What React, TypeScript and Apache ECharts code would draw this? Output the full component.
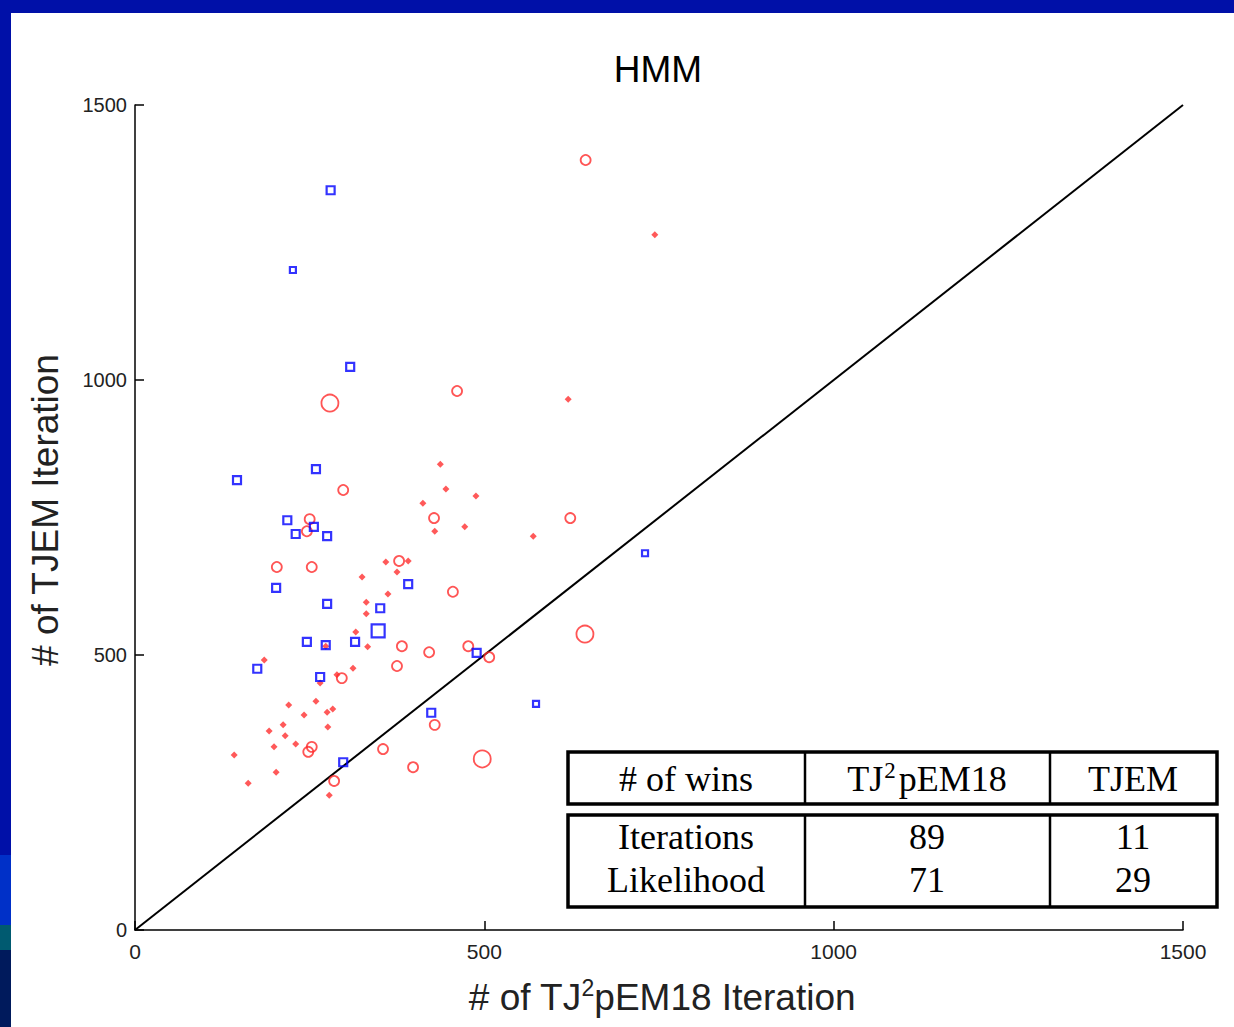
import React, { useEffect, useRef } from "react";
import * as echarts from "echarts";

// ---- data ----
const chartTitle = "HMM";
const xAxisTitle = "# of TJ2pEM18 Iteration";
const yAxisTitle = "# of TJEM Iteration";
const xTickValues = [0, 500, 1000, 1500];
const yTickValues = [0, 500, 1000, 1500];

// [TJ2pEM18 iterations, TJEM iterations, marker weight 0=small 1=normal 2=large]
const blueSquares: number[][] = [
  [280, 1345, 1], [226, 1200, 0], [308, 1024, 1], [146, 818, 1], [259, 838, 1],
  [218, 745, 1], [230, 720, 1], [256, 733, 1], [275, 716, 1], [202, 622, 1],
  [391, 629, 1], [351, 585, 1], [275, 593, 1], [348, 544, 2], [246, 524, 1],
  [273, 518, 1], [315, 524, 1], [175, 475, 1], [265, 460, 1], [489, 504, 1],
  [730, 685, 0], [574, 411, 0], [424, 395, 1], [298, 305, 1],
];

const redCircles: number[][] = [
  [645, 1400, 1], [279, 958, 2], [461, 980, 1], [298, 800, 1], [623, 749, 1],
  [428, 749, 1], [250, 747, 1], [246, 725, 1], [203, 660, 1], [253, 660, 1],
  [378, 671, 1], [455, 615, 1], [644, 538, 2], [382, 516, 1], [421, 505, 1],
  [477, 516, 1], [507, 496, 1], [375, 480, 1], [296, 458, 1], [429, 373, 1],
  [253, 333, 1], [248, 324, 1], [355, 329, 1], [497, 311, 2], [398, 296, 1],
  [285, 271, 1],
];

const redDots: number[][] = [
  [744, 1264], [620, 965], [437, 847], [445, 802], [488, 789], [412, 776],
  [429, 725], [472, 733], [570, 716], [359, 669], [391, 671], [375, 651],
  [325, 642], [362, 611], [331, 596], [331, 575], [316, 542], [333, 515],
  [185, 491], [312, 476], [265, 449], [289, 464], [259, 416], [220, 409],
  [242, 391], [275, 396], [283, 402], [212, 373], [276, 369], [192, 362],
  [215, 353], [199, 333], [230, 338], [142, 318], [202, 287], [162, 267],
  [278, 245], [273, 516],
];

const diagonal: number[][] = [[0, 0], [1500, 1500]];

const tableHeader = ["# of wins", "TJ2pEM18", "TJEM"];
const tableRowLabels = ["Iterations", "Likelihood"];
const winsTJ2pEM18 = [89, 71];
const winsTJEM = [11, 29];

const SANS = "'Liberation Sans', Arial, sans-serif";
const SERIF = "'Liberation Serif', 'Times New Roman', serif";

// Split "TJ2..." style strings into rich text with superscript 2
const supRich = (s: string, main: string, sup: string) => {
  const idx = s.indexOf("TJ2");
  if (idx < 0) return `{${main}|${s}}`;
  const before = s.slice(0, idx + 2);
  const after = s.slice(idx + 3);
  return `{${main}|${before}}{${sup}|2}{${main}|${after}}`;
};

export default function App() {
  const ref = useRef<HTMLDivElement>(null);

  useEffect(() => {
    if (!ref.current) return;
    const chart = echarts.init(ref.current, undefined, { renderer: "svg" });

    const squareSize = (v: number[]) => (v[2] === 2 ? 13 : v[2] === 0 ? 6 : 8);
    const circleSize = (v: number[]) => (v[2] === 2 ? 17 : 10);

    // table geometry
    const tx0 = 568, tx1 = 1217, c1 = 805, c2 = 1050;
    const hy0 = 752, hy1 = 804, by0 = 815, by1 = 907;
    const colCenters = [686, 927, 1133];
    const headerY = 779;
    const rowY = [837, 880];
    const tFont = `36px ${SERIF}`;

    const cellText = (x: number, y: number, text: string) => ({
      type: "text", x, y, z: 102,
      style: { text, font: tFont, fill: "#000", align: "center", verticalAlign: "middle" },
    });

    const tableGraphics: any[] = [
      { type: "rect", shape: { x: tx0, y: hy0, width: tx1 - tx0, height: hy1 - hy0 }, style: { fill: "#fff", stroke: "#000", lineWidth: 3.5 }, z: 100 },
      { type: "rect", shape: { x: tx0, y: by0, width: tx1 - tx0, height: by1 - by0 }, style: { fill: "#fff", stroke: "#000", lineWidth: 3.5 }, z: 100 },
      { type: "line", shape: { x1: c1, y1: hy0, x2: c1, y2: hy1 }, style: { stroke: "#000", lineWidth: 2.5 }, z: 101 },
      { type: "line", shape: { x1: c2, y1: hy0, x2: c2, y2: hy1 }, style: { stroke: "#000", lineWidth: 2.5 }, z: 101 },
      { type: "line", shape: { x1: c1, y1: by0, x2: c1, y2: by1 }, style: { stroke: "#000", lineWidth: 2.5 }, z: 101 },
      { type: "line", shape: { x1: c2, y1: by0, x2: c2, y2: by1 }, style: { stroke: "#000", lineWidth: 2.5 }, z: 101 },
      cellText(colCenters[0], headerY, tableHeader[0]),
      {
        type: "text", x: colCenters[1], y: headerY, z: 102,
        style: {
          text: supRich(tableHeader[1], "a", "s"),
          align: "center", verticalAlign: "middle", fill: "#000",
          rich: {
            a: { fontSize: 36, fontFamily: SERIF, fill: "#000", lineHeight: 40 },
            s: { fontSize: 23, fontFamily: SERIF, fill: "#000", verticalAlign: "top", lineHeight: 22, padding: [0, 3, 0, 1] },
          },
        },
      },
      cellText(colCenters[2], headerY, tableHeader[2]),
    ];
    tableRowLabels.forEach((lab, i) => {
      tableGraphics.push(
        cellText(colCenters[0], rowY[i], lab),
        cellText(colCenters[1], rowY[i], String(winsTJ2pEM18[i])),
        cellText(colCenters[2], rowY[i], String(winsTJEM[i])),
      );
    });

    const bgGraphics: any[] = [
      { type: "rect", shape: { x: 0, y: 0, width: 1234, height: 1027 }, style: { fill: "#0010a8" }, z: -10 },
      { type: "rect", shape: { x: 0, y: 855, width: 11, height: 70 }, style: { fill: "#0030c8" }, z: -9 },
      { type: "rect", shape: { x: 0, y: 925, width: 11, height: 25 }, style: { fill: "#005a70" }, z: -9 },
      { type: "rect", shape: { x: 0, y: 950, width: 11, height: 77 }, style: { fill: "#001a5c" }, z: -9 },
      { type: "rect", shape: { x: 11, y: 13, width: 1223, height: 1014 }, style: { fill: "#ffffff" }, z: -8 },
    ];

    const labelGraphics: any[] = [
      {
        type: "text", x: 658, y: 69, z: 50,
        style: { text: chartTitle, font: `37px ${SANS}`, fill: "#000", align: "center", verticalAlign: "middle" },
      },
      {
        type: "text", x: 45, y: 510, rotation: Math.PI / 2, z: 50,
        style: { text: yAxisTitle, font: `37px ${SANS}`, fill: "#222", align: "center", verticalAlign: "middle" },
      },
      {
        type: "text", x: 662, y: 997, z: 50,
        style: {
          text: supRich(xAxisTitle, "t", "s"),
          align: "center", verticalAlign: "middle", fill: "#222",
          rich: {
            t: { fontSize: 37, fontFamily: SANS, fill: "#222", lineHeight: 42 },
            s: { fontSize: 23, fontFamily: SANS, fill: "#222", verticalAlign: "top", lineHeight: 22 },
          },
        },
      },
    ];

    const option: any = {
      animation: false,
      grid: { left: 135, right: 51, top: 105, bottom: 97, containLabel: false },
      xAxis: {
        type: "value",
        min: xTickValues[0],
        max: xTickValues[xTickValues.length - 1],
        interval: 500,
        axisLine: { show: true, lineStyle: { color: "#000", width: 1.5 } },
        axisTick: { show: true, inside: true, length: 9, lineStyle: { color: "#000", width: 1.5 } },
        splitLine: { show: false },
        axisLabel: { color: "#222", fontFamily: SANS, fontSize: 21, margin: 11, formatter: (v: number) => String(v) },
      },
      yAxis: {
        type: "value",
        min: yTickValues[0],
        max: yTickValues[yTickValues.length - 1],
        interval: 500,
        axisLine: { show: true, lineStyle: { color: "#000", width: 1.5 } },
        axisTick: { show: true, inside: true, length: 9, lineStyle: { color: "#000", width: 1.5 } },
        splitLine: { show: false },
        axisLabel: { color: "#222", fontFamily: SANS, fontSize: 20, margin: 8, formatter: (v: number) => String(v) },
      },
      graphic: [...bgGraphics, ...tableGraphics, ...labelGraphics],
      series: [
        {
          type: "line",
          data: diagonal,
          symbol: "none",
          lineStyle: { color: "#000", width: 2 },
          z: 3,
          silent: true,
        },
        {
          type: "scatter",
          data: redDots,
          symbol: "diamond",
          symbolSize: 7,
          itemStyle: { color: "#ff3030" },
          z: 4,
        },
        {
          type: "scatter",
          data: redCircles,
          symbol: "circle",
          symbolSize: circleSize,
          itemStyle: { color: "rgba(0,0,0,0)", borderColor: "#ff2a2a", borderWidth: 1.8 },
          z: 5,
        },
        {
          type: "scatter",
          data: blueSquares,
          symbol: "rect",
          symbolSize: squareSize,
          itemStyle: { color: "rgba(0,0,0,0)", borderColor: "#0000ff", borderWidth: 2.2 },
          z: 6,
        },
      ],
    };

    chart.setOption(option);
    return () => chart.dispose();
  }, []);

  return (
    <div
      ref={ref}
      style={{ position: "absolute", left: 0, top: 0, width: 1234, height: 1027 }}
    />
  );
}
